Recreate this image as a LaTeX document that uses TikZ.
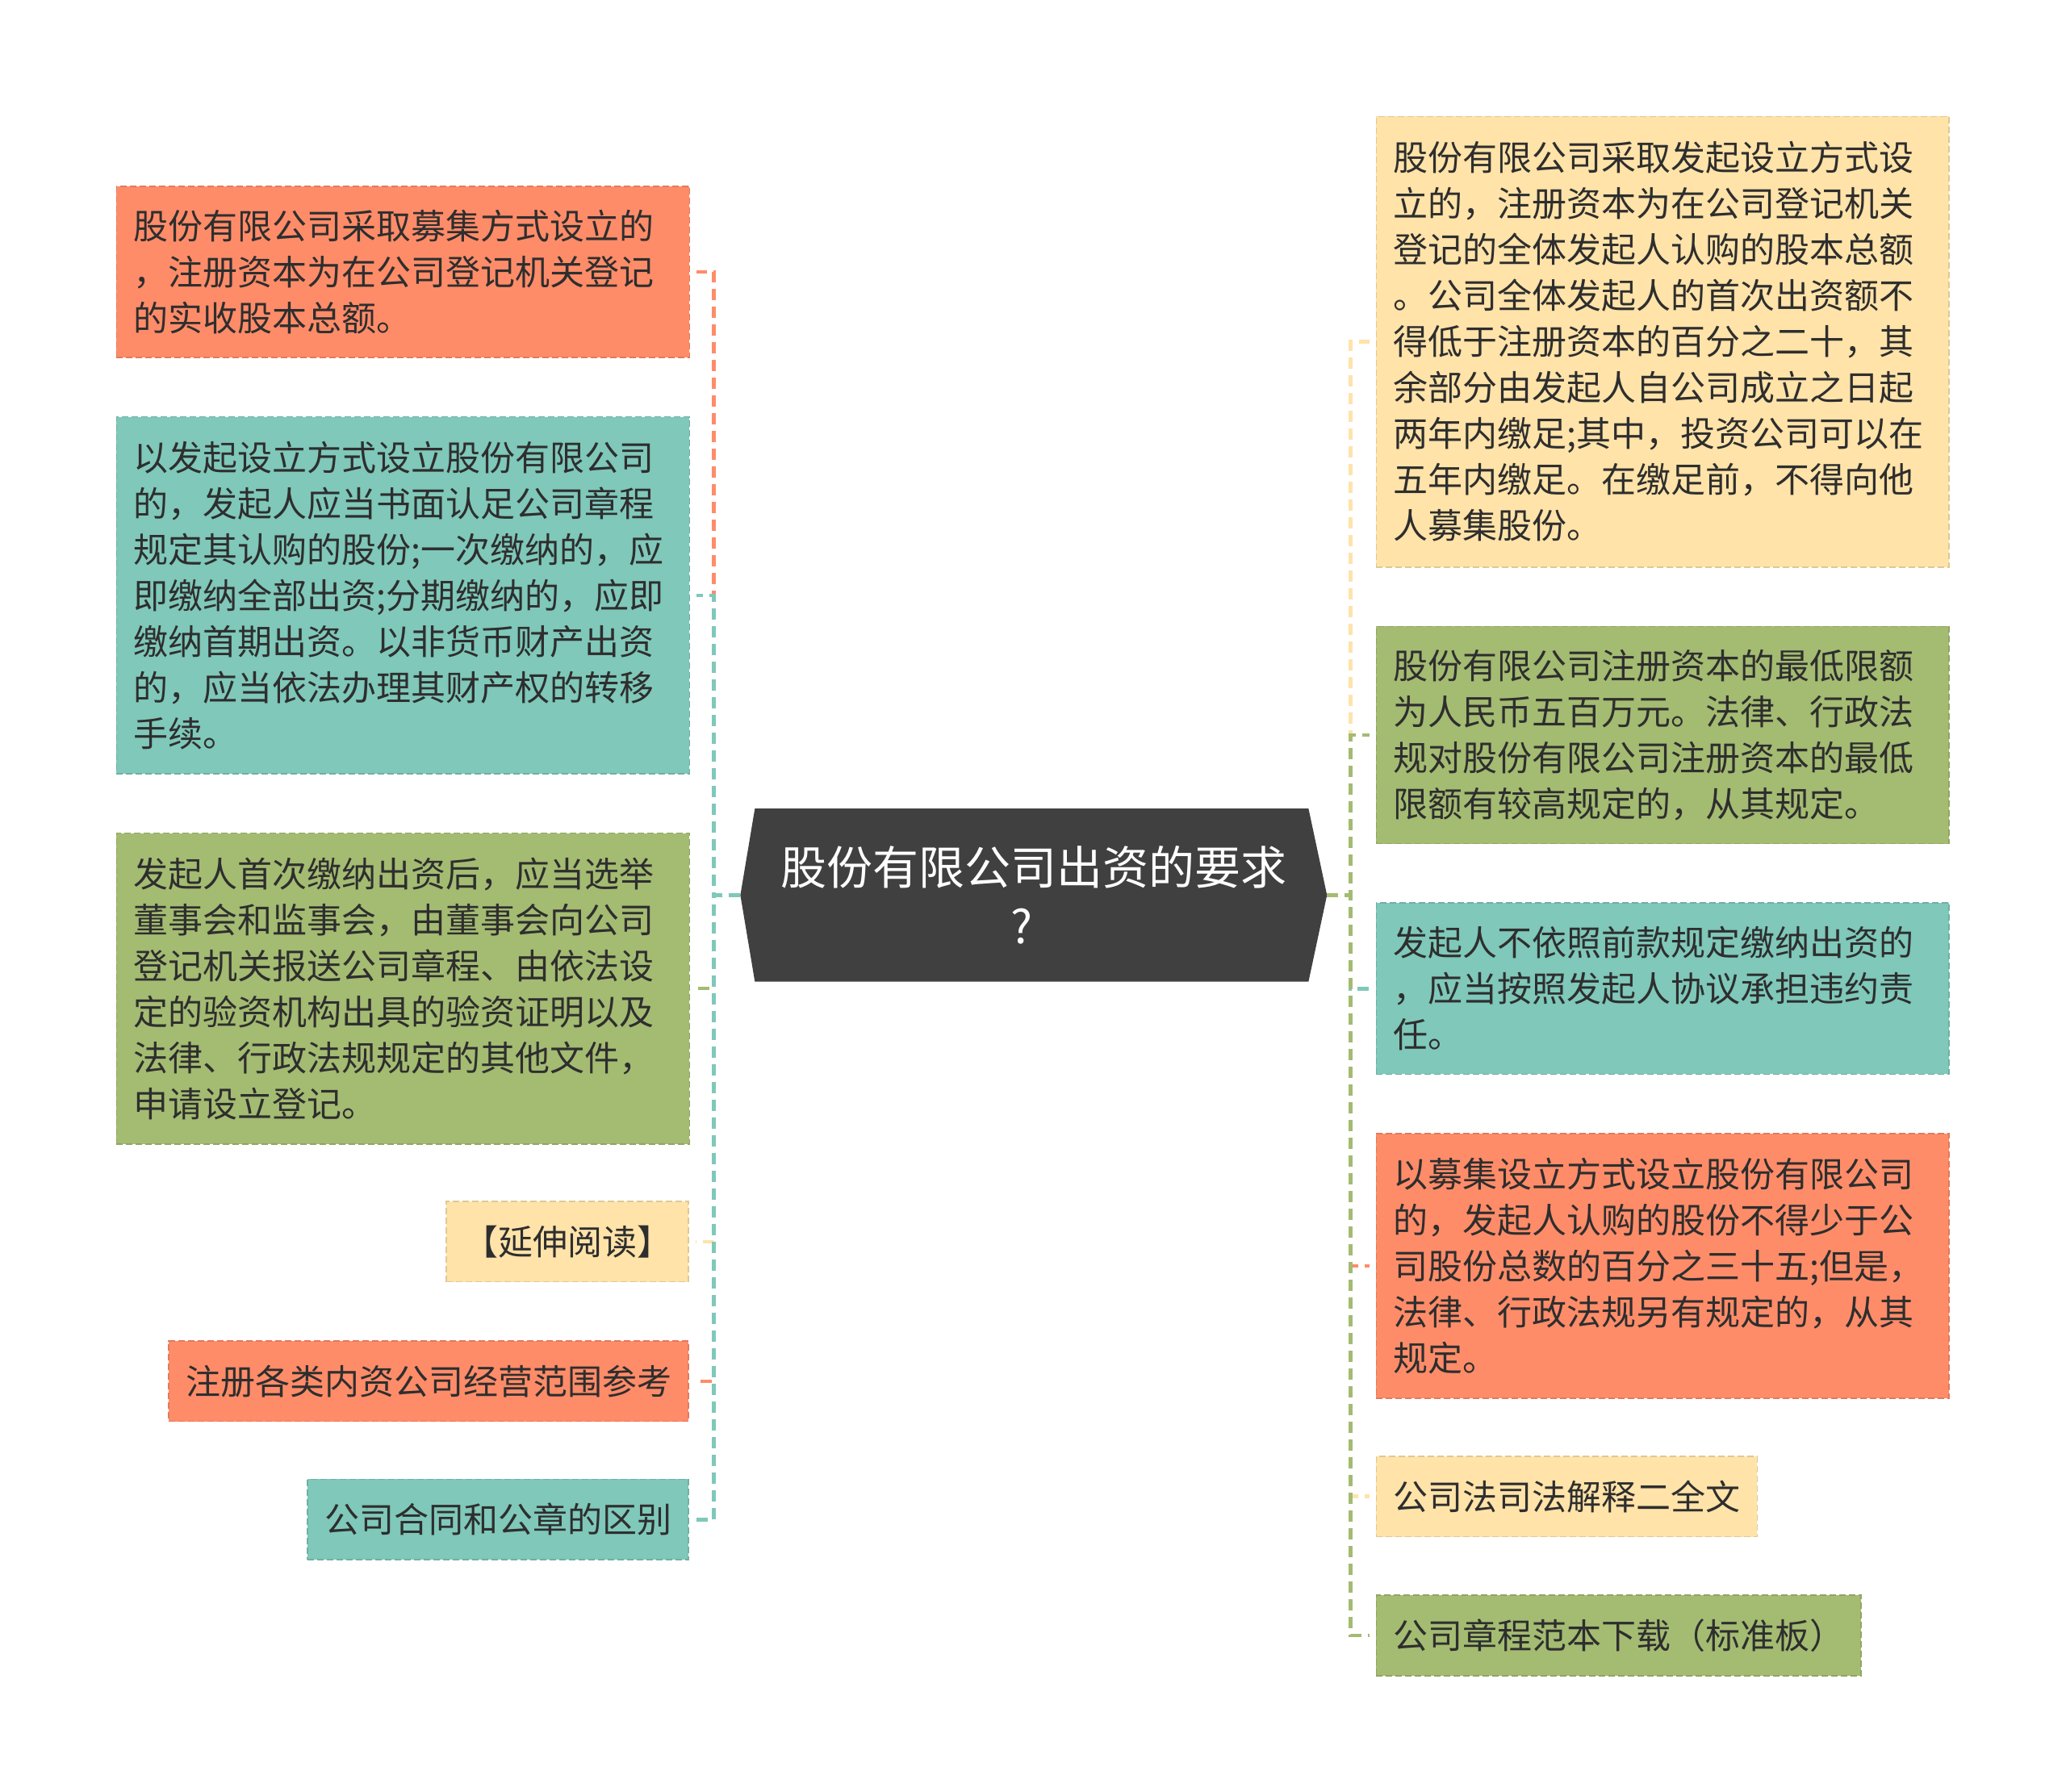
\documentclass[tikz,border=0pt]{standalone}
\usepackage{fontspec}
\setmainfont{Noto Sans CJK SC}
\usetikzlibrary{calc}
\pgfdeclarelayer{background}
\pgfsetlayers{background,main}
\definecolor{cOr}{HTML}{FF8C69}
\definecolor{cTe}{HTML}{7FC8BA}
\definecolor{cGr}{HTML}{A4BB72}
\definecolor{cYe}{HTML}{FFE3A9}
\definecolor{cDark}{HTML}{404040}
\definecolor{cTxt}{HTML}{2E2E2E}
\tikzset{
  leaf/.style={fill=#1, draw=#1!88!black, line width=1.5pt, dash pattern=on 8pt off 4pt,
    text=cTxt, inner xsep=21pt, inner ysep=0pt, font=\fontsize{43pt}{57pt}\selectfont},
  bigleaf/.style={leaf=#1, text width=668pt, align=left},
  smallleaf/.style={leaf=#1, minimum height=99.6pt},
  conn/.style={draw=#1, line width=4.5pt, dash pattern=on 14pt off 8pt, shorten >=8pt}
}
\begin{document}
\begin{tikzpicture}[x=1.6327pt,y=-1.6327pt]
\useasboundingbox (0,0) rectangle (1568,1360);
% central node
\node[text=white, align=center, minimum width=726.5pt, minimum height=214pt,
      font=\fontsize{57pt}{73pt}\selectfont] (c) at (784.5,679.5) {股份有限公司出资的要求\\?\hspace*{30pt}};
\begin{pgfonlayer}{background}
\fill[cDark] ($(c.north west)+(11,0)$) -- ($(c.north east)+(-14,0)$) -- (c.east)
  -- ($(c.south east)+(-14,0)$) -- ($(c.south west)+(11,0)$) -- (c.west) -- cycle;
\end{pgfonlayer}
% left nodes
\node[bigleaf=cOr, anchor=north west, minimum height=212.3pt] (L1) at (88,141)
 {股份有限公司采取募集方式设立的\\，注册资本为在公司登记机关登记\\的实收股本总额。};
\node[bigleaf=cTe, anchor=north west, minimum height=442.5pt] (L2) at (88,316)
 {以发起设立方式设立股份有限公司\\的，发起人应当书面认足公司章程\\规定其认购的股份;一次缴纳的，应\\即缴纳全部出资;分期缴纳的，应即\\缴纳首期出资。以非货币财产出资\\的，应当依法办理其财产权的转移\\手续。};
\node[bigleaf=cGr, anchor=north west, minimum height=385.3pt] (L3) at (88,632)
 {发起人首次缴纳出资后，应当选举\\董事会和监事会，由董事会向公司\\登记机关报送公司章程、由依法设\\定的验资机构出具的验资证明以及\\法律、行政法规规定的其他文件，\\申请设立登记。};
\node[smallleaf=cYe, anchor=east] (L4) at (523,942.5) {【延伸阅读】};
\node[smallleaf=cOr, anchor=east] (L5) at (523,1048.5) {注册各类内资公司经营范围参考};
\node[smallleaf=cTe, anchor=east] (L6) at (523,1153.5) {公司合同和公章的区别};
% right nodes
\node[bigleaf=cYe, anchor=north west, minimum height=558.4pt] (R1) at (1044,88)
 {股份有限公司采取发起设立方式设\\立的，注册资本为在公司登记机关\\登记的全体发起人认购的股本总额\\。公司全体发起人的首次出资额不\\得低于注册资本的百分之二十，其\\余部分由发起人自公司成立之日起\\两年内缴足;其中，投资公司可以在\\五年内缴足。在缴足前，不得向他\\人募集股份。};
\node[bigleaf=cGr, anchor=north west, minimum height=269.4pt] (R2) at (1044,475)
 {股份有限公司注册资本的最低限额\\为人民币五百万元。法律、行政法\\规对股份有限公司注册资本的最低\\限额有较高规定的，从其规定。};
\node[bigleaf=cTe, anchor=north west, minimum height=212.3pt] (R3) at (1044,685)
 {发起人不依照前款规定缴纳出资的\\，应当按照发起人协议承担违约责\\任。};
\node[bigleaf=cOr, anchor=north west, minimum height=328.2pt] (R4) at (1044,860)
 {以募集设立方式设立股份有限公司\\的，发起人认购的股份不得少于公\\司股份总数的百分之三十五;但是，\\法律、行政法规另有规定的，从其\\规定。};
\node[smallleaf=cYe, anchor=west] (R5) at (1044,1136) {公司法司法解释二全文};
\node[smallleaf=cGr, anchor=west] (R6) at (1044,1241.5) {公司章程范本下载（标准板）};
% connectors
\draw[conn=cOr] (c.west) -- ++(-20,0) |- (L1.east);
\draw[conn=cTe] (c.west) -- ++(-20,0) |- (L2.east);
\draw[conn=cGr] (c.west) -- ++(-20,0) |- (L3.east);
\draw[conn=cYe] (c.west) -- ++(-20,0) |- (L4.east);
\draw[conn=cOr] (c.west) -- ++(-20,0) |- (L5.east);
\draw[conn=cTe] (c.west) -- ++(-20,0) |- (L6.east);
\draw[conn=cYe] (c.east) -- ++(18,0) |- (R1.west);
\draw[conn=cGr] (c.east) -- ++(18,0) |- (R2.west);
\draw[conn=cTe] (c.east) -- ++(18,0) |- (R3.west);
\draw[conn=cOr] (c.east) -- ++(18,0) |- (R4.west);
\draw[conn=cYe] (c.east) -- ++(18,0) |- (R5.west);
\draw[conn=cGr] (c.east) -- ++(18,0) |- (R6.west);
\end{tikzpicture}
\end{document}
